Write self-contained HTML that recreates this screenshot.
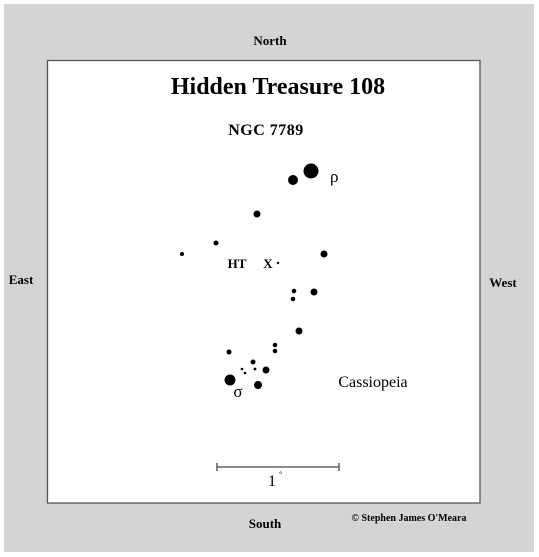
<!DOCTYPE html>
<html><head><meta charset="utf-8"><style>
body{margin:0;background:#fff;}
svg{display:block;font-family:"Liberation Serif",serif;}
</style></head><body>
<svg width="539" height="557" viewBox="0 0 539 557">
<rect x="4" y="4" width="530" height="548" fill="#d4d4d4"/>
<rect x="47.5" y="60.5" width="432.5" height="442.5" fill="#fff" stroke="#555" stroke-width="1.3"/>
<text x="270" y="45" text-anchor="middle" font-size="13" font-weight="bold">North</text>
<text x="265" y="528" text-anchor="middle" font-size="13" font-weight="bold">South</text>
<text x="21" y="284" text-anchor="middle" font-size="13" font-weight="bold">East</text>
<text x="503" y="287" text-anchor="middle" font-size="13" font-weight="bold">West</text>
<text x="409" y="521" text-anchor="middle" font-size="10" font-weight="bold">© Stephen James O'Meara</text>
<text x="278" y="94" text-anchor="middle" font-size="24" font-weight="bold">Hidden Treasure 108</text>
<text x="266" y="135" text-anchor="middle" font-size="16" font-weight="bold" letter-spacing="0.5">NGC 7789</text>
<text x="237" y="268" text-anchor="middle" font-size="13" font-weight="bold">HT</text>
<text x="268" y="268" text-anchor="middle" font-size="13" font-weight="bold">X</text>
<text x="330" y="182" font-size="17">ρ</text>
<text x="238" y="397" text-anchor="middle" font-size="17">σ</text>
<text x="373" y="387" text-anchor="middle" font-size="16">Cassiopeia</text>
<g>
<line x1="217" y1="467" x2="339" y2="467" stroke="#444" stroke-width="1.3"/>
<line x1="217" y1="463" x2="217" y2="471" stroke="#444" stroke-width="1.3"/>
<line x1="339" y1="463" x2="339" y2="471" stroke="#444" stroke-width="1.3"/>
<text x="272" y="486" text-anchor="middle" font-size="16">1</text>
<text x="279" y="477" font-size="8">°</text>
</g>
<g id="stars"></g>
</svg>
<script>
const starX=[311,293,257,216,182,324,278,294,293,314,299,275,275,229,253,242,245,255,266,230,258];
const starY=[171,180,214,243,254,254,263,291,299,292,331,345,351,352,362,369,373,369,370,380,385];
const starR=[7.5,5,3.5,2.5,2,3.5,1.2,2.3,2.3,3.5,3.5,2.3,2.3,2.5,2.5,1.3,1.3,1.4,3.5,5.5,4];
const g=document.getElementById('stars');
for(let i=0;i<starX.length;i++){
const c=document.createElementNS('http://www.w3.org/2000/svg','circle');
c.setAttribute('cx',starX[i]);c.setAttribute('cy',starY[i]);c.setAttribute('r',starR[i]);c.setAttribute('fill','#000');


g.appendChild(c);
}
</script>
</body></html>
